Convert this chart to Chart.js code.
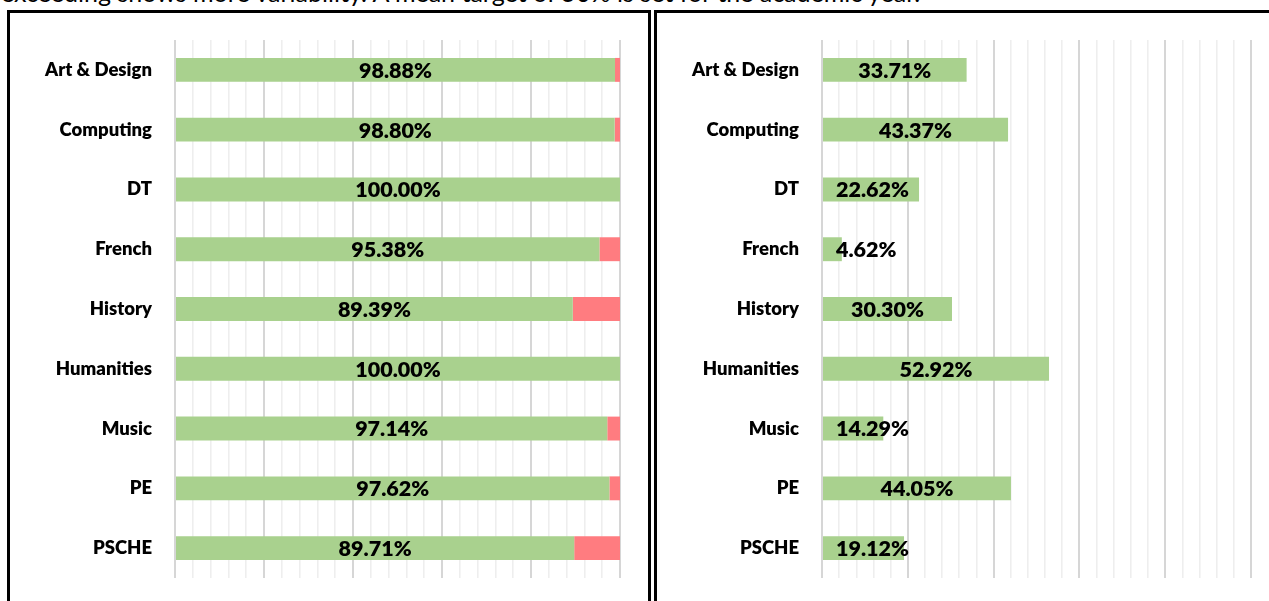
<!DOCTYPE html>
<html>
<head>
<meta charset="utf-8">
<script src="https://cdn.jsdelivr.net/npm/chart.js@4.4.1/dist/chart.umd.min.js"></script>
<style>
  html, body { margin:0; padding:0; background:#fff; width:1269px; height:601px; overflow:hidden; position:relative; }
  #note { position:absolute; left:1px; white-space:nowrap; font-family:Lato, sans-serif; color:#000; }
  .box { position:absolute; top:10px; border:3px solid #000; box-sizing:border-box; background:#fff; }
  #boxL { left:7px; width:644px; height:620px; }
  #boxR { left:654px; width:700px; height:620px; }
  canvas { position:absolute; }
</style>
</head>
<body>
<div id="note">exceeding shows more variability. A mean target of 50% is set for the academic year.</div>
<div class="box" id="boxL"></div>
<div class="box" id="boxR"></div>
<canvas id="cL" width="637" height="588" style="left:10px;top:13px;width:637px;height:588px"></canvas>
<canvas id="cR" width="612" height="588" style="left:657px;top:13px;width:612px;height:588px"></canvas>
<script>
const categories = ['Art & Design','Computing','DT','French','History','Humanities','Music','PE','PSCHE'];
const metValues    = [98.88, 98.80, 100.00, 95.38, 89.39, 100.00, 97.14, 97.62, 89.71];
const notMetValues = [1.12, 1.20, 0.00, 4.62, 10.61, 0.00, 2.86, 2.38, 10.29];
const exceedValues = [33.71, 43.37, 22.62, 4.62, 30.30, 52.92, 14.29, 44.05, 19.12];
const axisMin = 0, axisMax = 100, minorStep = 4, majorStep = 20;

const FAMILY = 'Lato, "Open Sans", sans-serif';
const HEAVY = '800';
function fitSize(text, weight, target) {
  const c = document.createElement('canvas').getContext('2d');
  c.font = weight + ' 100px ' + FAMILY;
  return 100 * target / c.measureText(text).width;
}

function build() {
  const catSize = 18.5;
  const lblSize = 21.5;
  const noteSize = fitSize(document.getElementById('note').textContent, 'normal', 924);
  const note = document.getElementById('note');
  note.style.fontSize = noteSize + 'px';
  note.style.lineHeight = noteSize + 'px';
  note.style.top = (2 - noteSize * 0.887) + 'px';

  const labelPlugin = {
    id: 'barLabels',
    afterDatasetsDraw(chart, args, opts) {
      const ctx = chart.ctx;
      const meta = chart.getDatasetMeta(0);
      const vals = chart.data.datasets[0].data;
      ctx.save();
      ctx.font = HEAVY + ' ' + lblSize + 'px ' + FAMILY;
      ctx.fillStyle = '#000';
      ctx.textBaseline = 'middle';
      ctx.textAlign = 'left';
      meta.data.forEach((bar, i) => {
        const p = bar.getProps(['x', 'base', 'y'], true);
        const txt = vals[i].toFixed(2) + '%';
        const w = ctx.measureText(txt).width;
        let left = (p.x + p.base) / 2 - w / 2;
        left = Math.max(left, chart.chartArea.left + opts.minInset);
        ctx.fillText(txt, left, p.y + 1);
      });
      ctx.restore();
    }
  };

  function opts(padRight, inset, stacked) {
    return {
      indexAxis: 'y',
      responsive: false,
      animation: false,
      layout: { padding: { top: 27, bottom: 23, left: 0, right: padRight } },
      plugins: { legend: { display: false }, tooltip: { enabled: false }, barLabels: { minInset: inset } },
      scales: {
        x: {
          type: 'linear', min: axisMin, max: axisMax, stacked: stacked,
          afterFit: s => { s.height = 0; s.paddingLeft = 0; s.paddingRight = 0; },
          ticks: { display: false, stepSize: minorStep, maxTicksLimit: 1000 },
          border: { display: false },
          grid: {
            drawTicks: false,
            color: c => (Math.round(c.tick.value) % majorStep === 0) ? '#d6d6d6' : '#eeeeee',
            lineWidth: c => (Math.round(c.tick.value) % majorStep === 0) ? 2 : 1.6
          }
        },
        y: {
          stacked: stacked,
          afterFit: s => { s.width = 165; s.paddingTop = 0; s.paddingBottom = 0; },
          border: { display: false },
          grid: { display: false, drawTicks: false },
          ticks: { color: '#000', padding: 23, font: { family: FAMILY, weight: HEAVY, size: catSize } }
        }
      }
    };
  }

  new Chart(document.getElementById('cL'), {
    type: 'bar',
    data: {
      labels: categories,
      datasets: [
        { data: metValues, backgroundColor: '#a9d18e', barPercentage: 0.4, categoryPercentage: 1 },
        { data: notMetValues, backgroundColor: '#ff7c80', barPercentage: 0.4, categoryPercentage: 1 }
      ]
    },
    options: opts(27, 0, true),
    plugins: [labelPlugin]
  });

  new Chart(document.getElementById('cR'), {
    type: 'bar',
    data: {
      labels: categories,
      datasets: [
        { data: exceedValues, backgroundColor: '#a9d18e', barPercentage: 0.4, categoryPercentage: 1 }
      ]
    },
    options: opts(18, 14, false),
    plugins: [labelPlugin]
  });
}

if (document.fonts && document.fonts.load) {
  Promise.all([
    document.fonts.load('800 20px Lato'),
    document.fonts.load('normal 20px Lato')
  ]).then(build, build);
} else { build(); }
</script>
</body>
</html>
